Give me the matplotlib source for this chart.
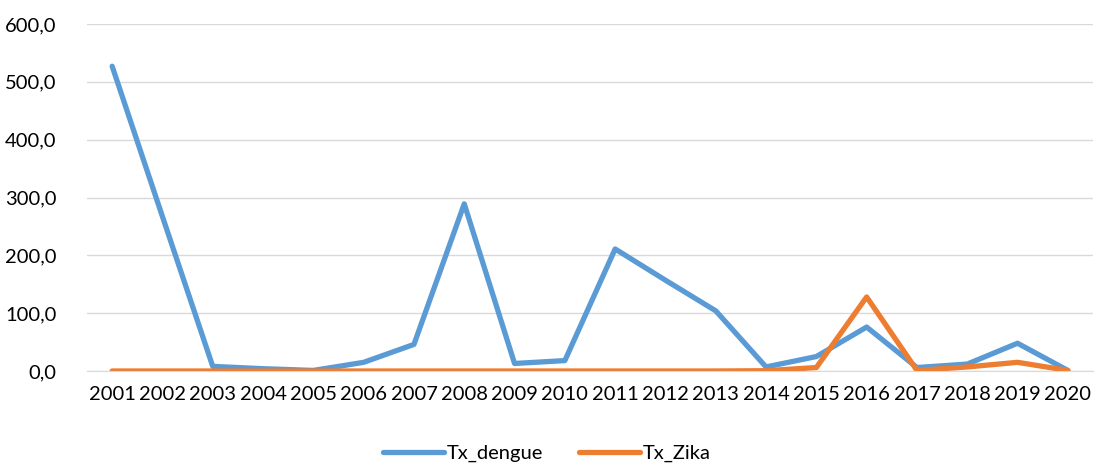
import numpy as np
import matplotlib.pyplot as plt
from matplotlib.ticker import FuncFormatter

anos = [str(a) for a in range(2001, 2021)]
tx_dengue = [527, 267, 8, 4, 1, 15, 46, 289, 13, 18, 211, 157, 104, 7, 25, 76, 6, 12, 48, 1]
tx_zika = [0, 0, 0, 0, 0, 0, 0, 0, 0, 0, 0, 0, 0, 0.5, 6, 128, 1, 7, 15, 1]

plt.rcParams['font.family'] = ['Lato', 'DejaVu Sans']

fig = plt.figure(figsize=(10.94, 4.66), dpi=100)
ax = fig.add_axes([87 / 1094, (466 - 371) / 466, (1093 - 87) / 1094, (371 - 24) / 466])

x = np.arange(len(anos))
ax.plot(x, tx_dengue, color='#5B9BD5', lw=3.8, label='Tx_dengue', solid_capstyle='round')
ax.plot(x, tx_zika, color='#ED7D31', lw=3.8, label='Tx_Zika', solid_capstyle='round')

ax.set_xlim(-0.5, len(anos) - 0.5)
ax.set_ylim(0, 600)
ax.set_yticks(range(0, 601, 100))
ax.yaxis.set_major_formatter(FuncFormatter(lambda v, p: f'{v:.1f}'.replace('.', ',')))
ax.set_xticks(x)
ax.set_xticklabels(anos)
ax.grid(axis='y', color='#D9D9D9', lw=1)
ax.set_axisbelow(True)
for s in ['top', 'right', 'left']:
    ax.spines[s].set_visible(False)
ax.spines['bottom'].set_color('#D9D9D9')
ax.tick_params(axis='both', length=0, labelsize=14.5, colors='black')
ax.tick_params(axis='y', pad=22)
ax.tick_params(axis='x', pad=11)

fig.legend(loc='lower center', ncol=2, frameon=False, fontsize=14.5,
           bbox_to_anchor=(0.5, -0.03), handlelength=3.0, handletextpad=0.15,
           columnspacing=1.8)

fig.savefig('out.png', dpi=100)
